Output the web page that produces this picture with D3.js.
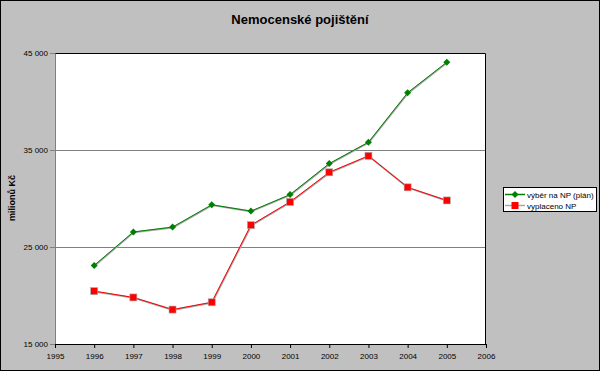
<!DOCTYPE html>
<html>
<head>
<meta charset="utf-8">
<script src="https://cdn.jsdelivr.net/npm/d3@7"></script>
<style>
  body { margin: 0; padding: 0; background: #fff; }
  svg { display: block; font-family: Arial, "Liberation Sans", sans-serif; }
</style>
</head>
<body>
<div id="chart"></div>
<script>
(function () {

  //data
  var years = [1996, 1997, 1998, 1999, 2000, 2001, 2002, 2003, 2004, 2005];
  var vyber = [23100, 26550, 27050, 29350, 28700, 30400, 33600, 35800, 40900, 44050];
  var vyplaceno = [20450, 19800, 18550, 19300, 27250, 29650, 32700, 34400, 31150, 29800];
  var seriesNames = ["výběr na NP (plán)", "vyplaceno NP"];
  var yTicks = [15000, 25000, 35000, 45000];
  var xTicks = d3.range(1995, 2007);

  var width = 600, height = 371;
  //plot area
  var margin = { top: 53, left: 55, right: 114, bottom: 27 },
      plotW = width - margin.left - margin.right,
      plotH = height - margin.top - margin.bottom;

  var svg = d3.select("#chart")
    .append("svg")
    .attr("width", width)
    .attr("height", height);

  //background + outer border
  svg.append("rect")
    .attr("x", 0.5).attr("y", 0.5)
    .attr("width", width - 1).attr("height", height - 1)
    .attr("fill", "#c0c0c0")
    .attr("stroke", "#000");

  //title
  svg.append("text")
    .attr("x", 300).attr("y", 24)
    .attr("text-anchor", "middle")
    .attr("font-size", "13px")
    .attr("font-weight", "bold")
    .text("Nemocenské pojištění");

  var g = svg.append("g")
    .attr("transform", "translate(" + margin.left + "," + margin.top + ")");

  //scales
  var x = d3.scaleLinear().domain([1995, 2006]).range([0, plotW]);
  var y = d3.scaleLinear().domain([15000, 45000]).range([plotH, 0]);

  g.append("rect")
    .attr("width", plotW).attr("height", plotH)
    .attr("fill", "#fff");

  //gridlines
  g.selectAll(".grid")
    .data(yTicks.slice(1, 3))
    .enter().append("line")
    .attr("class", "grid")
    .attr("x1", 0).attr("x2", plotW)
    .attr("y1", function (d) { return Math.round(y(d)) + 0.5; })
    .attr("y2", function (d) { return Math.round(y(d)) + 0.5; })
    .attr("stroke", "#808080");

  //top and right border
  g.append("path")
    .attr("d", "M0,0.5H" + (plotW - 0.5) + "V" + plotH)
    .attr("fill", "none")
    .attr("stroke", "#000");

  //axes
  var fmt = function (d) { return d3.format(",")(d).replace(",", " "); };
  var yAxis = d3.axisLeft(y).tickValues(yTicks).tickFormat(fmt).tickSize(5).tickSizeOuter(0);
  g.append("g")
    .attr("class", "axis y-axis")
    .call(yAxis);

  var xAxis = d3.axisBottom(x).tickValues(xTicks).tickFormat(d3.format("d")).tickSize(4).tickSizeOuter(0);
  g.append("g")
    .attr("class", "axis x-axis")
    .attr("transform", "translate(0," + plotH + ")")
    .call(xAxis);

  g.selectAll(".y-axis path, .y-axis line").attr("stroke", "#808080");
  g.selectAll(".x-axis path, .x-axis line").attr("stroke", "#000");
  g.selectAll(".axis text")
    .attr("font-size", "8px")
    .attr("font-family", "Arial, 'Liberation Sans', sans-serif")
    .attr("fill", "#000");
  g.selectAll(".x-axis text").attr("dy", "0.95em");
  g.selectAll(".y-axis text").attr("x", -7);

  //y label
  svg.append("text")
    .attr("transform", "translate(15,198) rotate(-90)")
    .attr("text-anchor", "middle")
    .attr("font-size", "9px")
    .attr("font-weight", "bold")
    .text("milionů Kč");

  var line = d3.line()
    .x(function (d, i) { return x(years[i]); })
    .y(function (d) { return y(d); });

  var colors = ["#008000", "#ff0000"];

  function drawLine(data, color) {
    g.append("path")
      .datum(data)
      .attr("d", line)
      .attr("fill", "none")
      .attr("stroke", "#a8a8a8")
      .attr("stroke-width", 1.8)
      .attr("transform", "translate(0.4,0.4)");
    g.append("path")
      .datum(data)
      .attr("d", line)
      .attr("fill", "none")
      .attr("stroke", color)
      .attr("stroke-width", 1);
  }
  drawLine(vyber, colors[0]);
  drawLine(vyplaceno, colors[1]);

  //diamond marker
  var diamond = "M0,-3.5L3.5,0L0,3.5L-3.5,0Z";

  g.selectAll(".vyber")
    .data(vyber)
    .enter().append("path")
    .attr("class", "vyber")
    .attr("d", diamond)
    .attr("transform", function (d, i) { return "translate(" + x(years[i]) + "," + y(d) + ")"; })
    .attr("fill", colors[0]);

  g.selectAll(".vyplaceno")
    .data(vyplaceno)
    .enter().append("rect")
    .attr("class", "vyplaceno")
    .attr("x", function (d, i) { return x(years[i]) - 3.5; })
    .attr("y", function (d) { return y(d) - 3.5; })
    .attr("width", 7).attr("height", 7)
    .attr("fill", colors[1])
    .attr("stroke", "#a8a8a8")
    .attr("stroke-width", 0.6);

  //legend
  var legend = svg.append("g").attr("transform", "translate(503,187)");
  legend.append("rect")
    .attr("x", 0.5).attr("y", 0.5)
    .attr("width", 93).attr("height", 24)
    .attr("fill", "#fff")
    .attr("stroke", "#000");

  var rows = legend.selectAll(".row")
    .data(seriesNames)
    .enter().append("g")
    .attr("class", "row")
    .attr("transform", function (d, i) { return "translate(0," + (7 + i * 11) + ")"; });

  rows.append("line")
    .attr("x1", 2).attr("x2", 22)
    .attr("y1", 0.5).attr("y2", 0.5)
    .attr("stroke", function (d, i) { return i === 0 ? colors[0] : "#a8a8a8"; })
    .attr("stroke-width", 1.5);

  rows.filter(function (d, i) { return i === 0; })
    .append("path")
    .attr("d", diamond)
    .attr("transform", "translate(12,0.5)")
    .attr("fill", colors[0]);

  rows.filter(function (d, i) { return i === 1; })
    .append("rect")
    .attr("x", 8.5).attr("y", -3)
    .attr("width", 7).attr("height", 7)
    .attr("fill", colors[1]);

  rows.append("text")
    .attr("x", 24).attr("y", 3.5)
    .attr("font-size", "8px")
    .text(function (d) { return d; });

})()
</script>
</body>
</html>
